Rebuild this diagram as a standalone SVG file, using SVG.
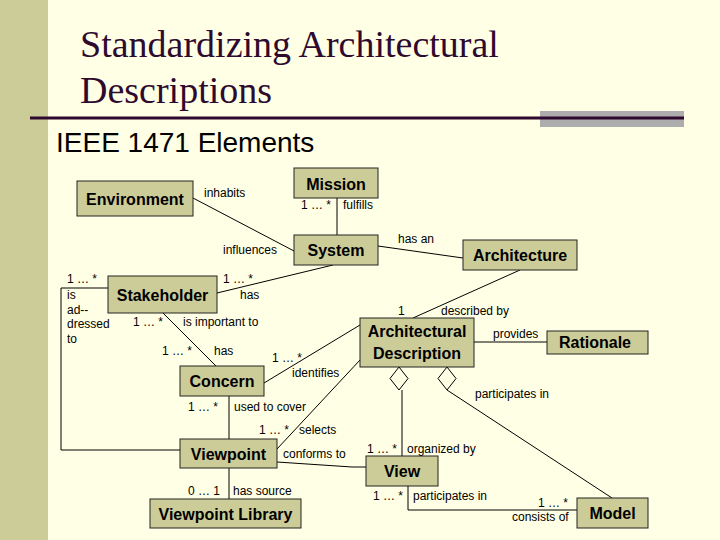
<svg xmlns="http://www.w3.org/2000/svg" width="720" height="540" viewBox="0 0 720 540">
<style>
.node rect{fill:#CCCC99;stroke:#222;stroke-width:1}
.node text{font-family:"Liberation Sans",Arial,sans-serif;font-size:16px;font-weight:bold;fill:#000;text-anchor:middle}
.lbl{font-family:"Liberation Sans",Arial,sans-serif;font-size:12px;fill:#000}
.conn path{fill:none;stroke:#000;stroke-width:1}
.conn polygon{fill:#FFFFE5;stroke:#000;stroke-width:1}
.title{font-family:"Liberation Serif","Times New Roman",serif;font-size:38px;fill:#2E0A2E}
</style>
<rect x="0" y="0" width="720" height="540" fill="#FFFFE5"/>
<rect x="0" y="0" width="48" height="540" fill="#CCCC99"/>
<rect x="540" y="111" width="144" height="16" fill="#ADADAD"/>
<rect x="30" y="116.5" width="654" height="3" fill="#2E0A2E"/>
<text class="title" x="80" y="57">Standardizing Architectural</text>
<text class="title" x="80" y="103">Descriptions</text>
<text x="56" y="152" font-family="'Liberation Sans',Arial,sans-serif" font-size="28" fill="#000">IEEE 1471 Elements</text>

<g id="connectors" class="conn">
  <path d="M193,198 L294,251"/>
  <path d="M337,198 L337,235"/>
  <path d="M378,246 L463,258"/>
  <path d="M217,293 L333,265"/>
  <path d="M108,288 L61,288 L61,450 L180,450"/>
  <path d="M163,313 L216,366"/>
  <path d="M264,383 L360,325"/>
  <path d="M277,449 L360,360"/>
  <path d="M229,396 L229,439"/>
  <path d="M229,468 L229,499"/>
  <path d="M277,462 L352,467 L366,467"/>
  <path d="M520,270 L413,318"/>
  <path d="M474,342 L547,342"/>
  <path d="M402,390 L402,456"/>
  <path d="M447,390 L612,498"/>
  <path d="M408,486 L408,510 L577,510"/>
  <polygon points="399,367 408,378.5 399,390 390,378.5"/>
  <polygon points="447,367 456,378.5 447,390 438,378.5"/>
</g>

<g id="environment" class="node"><rect x="77" y="181" width="116" height="35"/><text x="135" y="205">Environment</text></g>
<g id="mission" class="node"><rect x="294" y="168" width="84" height="30"/><text x="336" y="190">Mission</text></g>
<g id="system" class="node"><rect x="294" y="235" width="84" height="30"/><text x="336" y="256">System</text></g>
<g id="stakeholder" class="node"><rect x="108" y="276" width="109" height="37"/><text x="162.5" y="301">Stakeholder</text></g>
<g id="concern" class="node"><rect x="180" y="366" width="84" height="30"/><text x="222" y="387">Concern</text></g>
<g id="viewpoint" class="node"><rect x="180" y="439" width="97" height="29"/><text x="228.5" y="460">Viewpoint</text></g>
<g id="viewpoint-library" class="node"><rect x="150" y="499" width="151" height="29"/><text x="225.5" y="520">Viewpoint Library</text></g>
<g id="architecture" class="node"><rect x="463" y="240" width="114" height="30"/><text x="520" y="261">Architecture</text></g>
<g id="architectural-description" class="node"><rect x="360" y="318" width="114" height="49"/><text x="417" y="337">Architectural</text><text x="417" y="359">Description</text></g>
<g id="rationale" class="node"><rect x="547" y="331" width="101" height="23"/><text x="595" y="348">Rationale</text></g>
<g id="view" class="node"><rect x="366" y="456" width="72" height="30"/><text x="402" y="477">View</text></g>
<g id="model" class="node"><rect x="577" y="498" width="71" height="30"/><text x="612.5" y="519">Model</text></g>

<g id="labels" class="lbl">
  <text x="204" y="197">inhabits</text>
  <text x="301" y="209">1 … *</text>
  <text x="343" y="209">fulfills</text>
  <text x="223" y="254">influences</text>
  <text x="398" y="243">has an</text>
  <text x="223" y="283">1 … *</text>
  <text x="240" y="299">has</text>
  <text x="67" y="283">1 … *</text>
  <text x="67" y="299">is</text>
  <text x="67" y="314">ad--</text>
  <text x="67" y="328">dressed</text>
  <text x="67" y="343">to</text>
  <text x="133" y="326">1 … *</text>
  <text x="183" y="326">is important to</text>
  <text x="162" y="355">1 … *</text>
  <text x="214" y="355">has</text>
  <text x="272" y="362">1 … *</text>
  <text x="292" y="377">identifies</text>
  <text x="398" y="315">1</text>
  <text x="441" y="315">described by</text>
  <text x="493" y="338">provides</text>
  <text x="475" y="398">participates in</text>
  <text x="188" y="411">1 … *</text>
  <text x="234" y="411">used to cover</text>
  <text x="259" y="434">1 … *</text>
  <text x="299" y="434">selects</text>
  <text x="283" y="458">conforms to</text>
  <text x="188" y="495">0 … 1</text>
  <text x="233" y="495">has source</text>
  <text x="367" y="453">1 … *</text>
  <text x="407" y="453">organized by</text>
  <text x="373" y="500">1 … *</text>
  <text x="413" y="500">participates in</text>
  <text x="538" y="507">1 … *</text>
  <text x="512" y="521">consists of</text>
</g>
</svg>
